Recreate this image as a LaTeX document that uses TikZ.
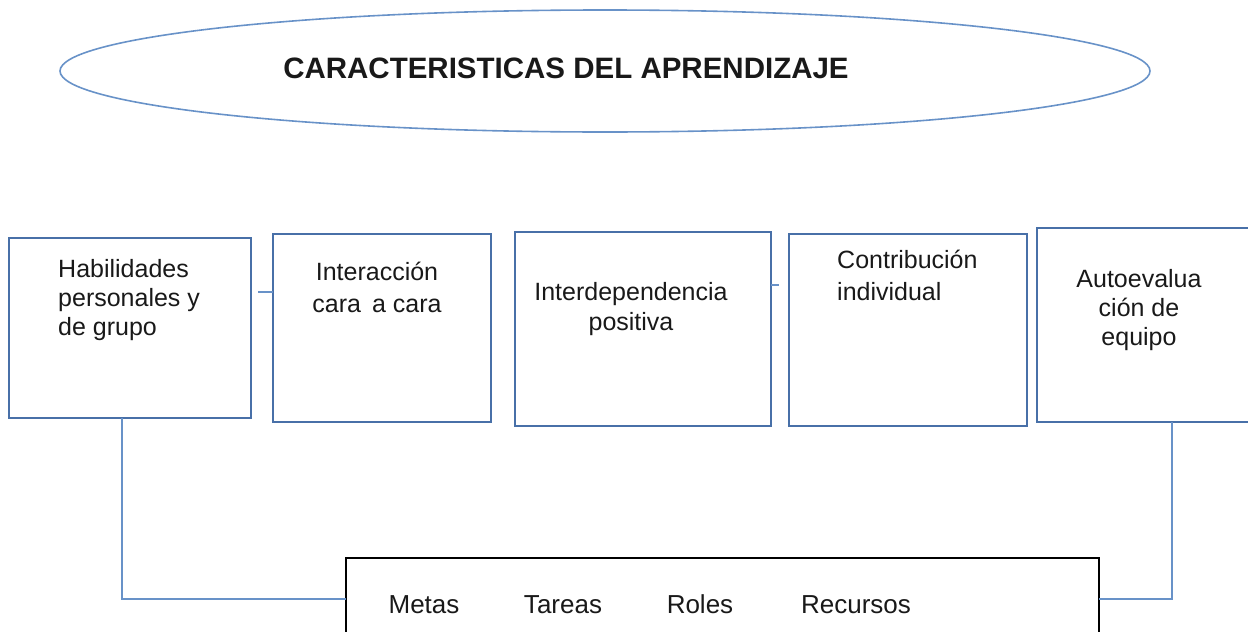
\documentclass[tikz,border=0pt]{standalone}
\usepackage{fontspec}
\setmainfont{Liberation Sans}
\usetikzlibrary{shapes.geometric,calc}
\definecolor{boxblue}{RGB}{72,112,168}
\definecolor{lineblue}{RGB}{104,146,200}
\definecolor{txt}{RGB}{25,25,25}
\begin{document}
\begin{tikzpicture}[x=1pt,y=-1pt,
  box/.style={draw=boxblue, line width=1.6pt, rectangle, inner sep=0pt, outer sep=0pt},
  conn/.style={draw=lineblue, line width=1.4pt},
  lbl/.style={font=\fontsize{25}{29}\selectfont, text=txt, inner sep=0pt},
  btxt/.style={font=\fontsize{26}{30}\selectfont, text=txt, inner sep=0pt, anchor=base}]
\useasboundingbox (0,0) rectangle (1248,632);
\clip (0,0) rectangle (1248,632);
% title ellipse
\node[ellipse, draw=lineblue, line width=1.6pt, minimum width=1090pt, minimum height=122pt, inner sep=0pt] (ell) at (605,71) {};
\node[font=\fontsize{29.5}{34}\selectfont\bfseries, text=txt, inner sep=0pt] (tt) at (566,68) {CARACTERISTICAS DEL APRENDIZAJE};
% boxes
\node[box, minimum width=242pt, minimum height=180pt] (b1) at (130,328) {};
\node[box, minimum width=218pt, minimum height=188pt] (b2) at (382,328) {};
\node[box, minimum width=256pt, minimum height=194pt] (b3) at (643,329) {};
\node[box, minimum width=238pt, minimum height=192pt] (b4) at (908,330) {};
\node[box, minimum width=216pt, minimum height=194pt] (b5) at (1145,325) {};
% box texts
\node[lbl, align=left, anchor=north west] (t1) at (58,259) {Habilidades\\personales y\\de grupo};
\node[lbl, align=center, anchor=north, font=\fontsize{25}{32}\selectfont] (t2) at (377,262) {Interacción\\cara\, a cara};
\node[lbl, align=center, anchor=north, font=\fontsize{25}{30}\selectfont] (t3) at (631,282) {Interdependencia\\positiva};
\node[lbl, align=left, anchor=north west, font=\fontsize{25}{32}\selectfont] (t4) at (837,250) {Contribución\\individual};
\node[lbl, align=center, anchor=north] (t5) at (1139,269) {Autoevalua\\ción de\\equipo};
% bottom box
\node[draw=black, line width=1.6pt, rectangle, inner sep=0pt, outer sep=0pt, minimum width=753pt, minimum height=82pt] (bot) at (722.5,599) {};
\node[btxt] (m1) at (424,613) {Metas};
\node[btxt] (m2) at (563,613) {Tareas};
\node[btxt] (m3) at (700,613) {Roles};
\node[btxt] (m4) at (856,613) {Recursos};
% connectors
\coordinate (s1) at (258,292);
\coordinate (s2) at (779,285);
\draw[conn] (s1) -- (s1 -| b2.west);
\draw[conn] (s2 -| b3.east) -- (s2);
\draw[conn] ($(b1.south west)+(113,0)$) |- (bot.west);
\draw[conn] ($(b5.south west)+(135,0)$) |- (bot.east);
\end{tikzpicture}
\end{document}
